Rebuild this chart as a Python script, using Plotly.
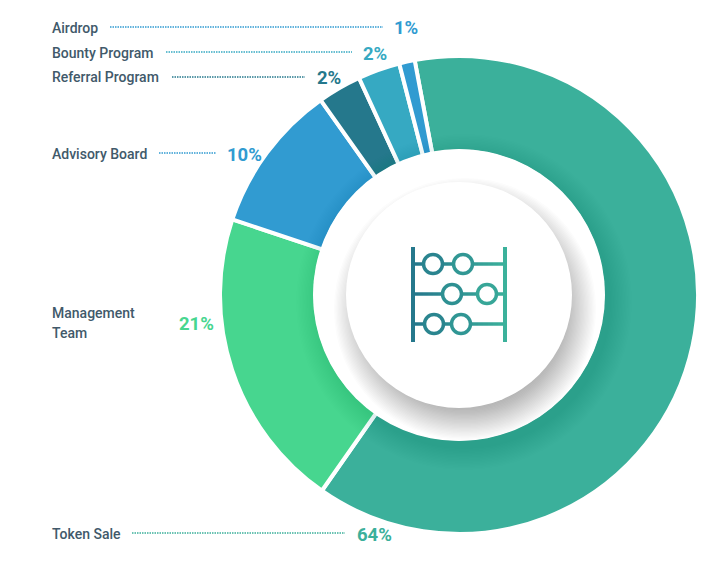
import plotly.graph_objects as go

W, H = 715, 565
PAGE_MARGIN = 8  # the browser's default body margin
CX, CY, R_OUT = 459, 295, 239
PW, PH = W - 2 * PAGE_MARGIN, H - 2 * PAGE_MARGIN

categories = ["Token Sale", "Management Team", "Advisory Board", "Referral Program", "Bounty Program", "Airdrop"]
# Slice sizes as drawn in the picture (they differ slightly from the printed labels)
drawn_share = [62.7, 20.4, 10.05, 2.95, 2.85, 1.05]
percent_labels = ["64%", "21%", "10%", "2%", "2%", "1%"]
colors = ["#3bb09b", "#47d68f", "#319bd1", "#25788c", "#36a9c2", "#319bd1"]
label_color = "#41596a"


def px_x(x):
    return (x - PAGE_MARGIN) / PW


def px_y(y):
    return 1 - (y - PAGE_MARGIN) / PH


def blend(x):
    t = max(0, min(1, (x - 413) / (505 - 413)))
    a, b = (0x25, 0x78, 0x8c), (0x3b, 0xb1, 0x9b)
    return "rgb(%d,%d,%d)" % tuple(round(a[i] + (b[i] - a[i]) * t) for i in range(3))


def circle(cx, cy, r, fill, line=None, lw=0):
    return dict(type="circle", xref="paper", yref="paper",
                x0=px_x(cx - r), x1=px_x(cx + r), y0=px_y(cy + r), y1=px_y(cy - r),
                fillcolor=fill, line=dict(color=line or "rgba(0,0,0,0)", width=lw))


def seg(x0, y0, x1, y1, color, w, dash="solid"):
    return dict(type="line", xref="paper", yref="paper",
                x0=px_x(x0), x1=px_x(x1), y0=px_y(y0), y1=px_y(y1),
                line=dict(color=color, width=w, dash=dash))


fig = go.Figure(go.Pie(
    labels=categories, values=drawn_share, sort=False, direction="clockwise", rotation=-10.7,
    hole=0.6, textinfo="none", hoverinfo="label",
    marker=dict(colors=colors, line=dict(color="white", width=4)),
    domain=dict(x=[px_x(CX - R_OUT), px_x(CX + R_OUT)], y=[px_y(CY + R_OUT), px_y(CY - R_OUT)]),
))

shapes = []
# soft shadow of the ring on the donut
for i in range(16):
    shapes.append(circle(CX + 5, CY + 7, 168 - i * 1.4, "rgba(30,70,70,0.007)"))
shapes.append(circle(CX, CY, 146, "white"))
# soft shadow of the disc on the ring
for i in range(32):
    shapes.append(circle(CX + 6, CY + 14, 131 - i * 1.3, "rgba(60,85,95,0.014)"))
shapes.append(circle(CX, CY, 113, "white"))

# abacus icon
rods = [(264, [433, 463]), (294, [452, 487]), (324, [434, 461])]
for y, beads in rods:
    x = 413
    while x < 505:
        shapes.append(seg(x, y, min(x + 5, 505), y, blend(x), 3.5))
        x += 5
    for b in beads:
        shapes.append(circle(b, y, 9.5, "white", blend(b), 3.5))
shapes.append(seg(413, 247, 413, 342, blend(413), 4))
shapes.append(seg(505, 247, 505, 342, blend(505), 4))

# dotted leaders: dots start/end, y, colour
leaders = [(110, 383, 27, "#319bd1"), (166, 352, 52, "#36a9c2"), (172, 305, 77, "#25788c"),
           (159, 216, 153, "#319bd1"), (132, 345, 533, "#3bb09b")]
for x0, x1, y, c in leaders:
    shapes.append(seg(x0, y, x1, y, c, 1.5, "1.5px,1px"))

fig.update_layout(width=PW, height=PH, margin=dict(l=0, r=0, t=0, b=0), showlegend=False,
                  paper_bgcolor="white", plot_bgcolor="white", shapes=shapes)


def note(text, x, y, size, color, weight):
    fig.add_annotation(xref="paper", yref="paper", x=px_x(x), y=px_y(y), text=text, showarrow=False,
                       xanchor="left", yanchor="middle", align="left",
                       borderpad=0, font=dict(family="Roboto", size=size, color=color, weight=weight))


names = [("Airdrop", 28), ("Bounty Program", 53), ("Referral Program", 77), ("Advisory Board", 154),
         ("Management", 313), ("Team", 333), ("Token Sale", 534)]
for name, y in names:
    note(name, 51, y, 14, label_color, 500)

pct_pos = {"Token Sale": (356, 535), "Management Team": (178, 324), "Advisory Board": (226, 155),
           "Referral Program": (316, 78), "Bounty Program": (362, 54), "Airdrop": (393, 28)}
for cat, txt, c in zip(categories, percent_labels, colors):
    x, y = pct_pos[cat]
    note(txt, x, y, 18.5, c, 700)

fig.write_html("out.html")
